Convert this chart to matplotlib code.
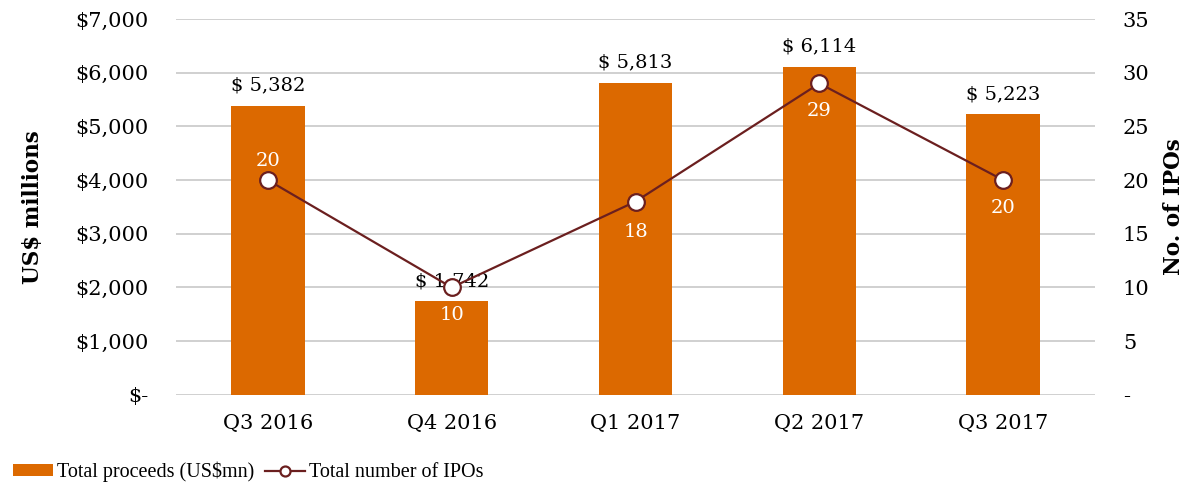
import matplotlib
matplotlib.use('Agg')
import matplotlib.pyplot as plt
from matplotlib.ticker import FuncFormatter

quarters = ['Q3 2016', 'Q4 2016', 'Q1 2017', 'Q2 2017', 'Q3 2017']
proceeds = [5382, 1742, 5813, 6114, 5223]
ipo_counts = [20, 10, 18, 29, 20]

BAR_COLOR = '#DC6900'
LINE_COLOR = '#6B1F1F'
SERIF = ['DejaVu Serif']
LEGEND_FONT = ['Liberation Serif']

# vertical offsets (points) for the count labels, above or below each marker
count_offsets = [14, -20, -22, -20, -20]


def money(v, pos=None):
    return '$-' if v == 0 else '${:,.0f}'.format(v)


def count(v, pos=None):
    return '-' if v == 0 else '{:.0f}'.format(v)


def main():
    fig = plt.figure(figsize=(11.89, 4.88), dpi=100)
    ax = fig.add_axes([0.148, 0.191, 0.773, 0.770])
    ax2 = ax.twinx()

    x = list(range(len(quarters)))
    bars = ax.bar(x, proceeds, width=0.4, color=BAR_COLOR, zorder=2,
                  label='Total proceeds (US$mn)')
    ax.set_ylim(0, 7000)
    ax.set_yticks(range(0, 7001, 1000))
    ax.yaxis.set_major_formatter(FuncFormatter(money))
    ax.set_xlim(-0.5, len(quarters) - 0.5)
    ax.set_xticks(x)
    ax.set_xticklabels(quarters)
    ax.grid(axis='y', color='#C8C8C8', linewidth=1.2, zorder=0)
    ax.set_axisbelow(True)

    for b, v in zip(bars, proceeds):
        ax.annotate('$ {:,}'.format(v), (b.get_x() + b.get_width() / 2, v),
                    xytext=(0, 8), textcoords='offset points',
                    ha='center', va='bottom', fontsize=14, family=SERIF)

    ax2.plot(x, ipo_counts, color=LINE_COLOR, linewidth=1.6, marker='o',
             markersize=12, markerfacecolor='white', markeredgewidth=1.6,
             zorder=3, label='Total number of IPOs')
    ax2.set_ylim(0, 35)
    ax2.set_yticks(range(0, 36, 5))
    ax2.yaxis.set_major_formatter(FuncFormatter(count))

    for xi, v, off in zip(x, ipo_counts, count_offsets):
        ax2.annotate(str(v), (xi, v), xytext=(0, off), textcoords='offset points',
                     ha='center', va='center', fontsize=14, color='white',
                     family=SERIF)

    for a in (ax, ax2):
        for s in a.spines.values():
            s.set_visible(False)
        a.tick_params(length=0, labelsize=15, colors='black')
        for lbl in a.get_xticklabels() + a.get_yticklabels():
            lbl.set_family(SERIF)
    ax.tick_params(axis='y', pad=20)
    ax.tick_params(axis='x', pad=14)
    ax2.tick_params(axis='y', pad=20)

    ax.set_ylabel('US$ millions', fontsize=15.5, fontweight='bold',
                  family=SERIF, labelpad=22)
    ax2.set_ylabel('No. of IPOs', fontsize=15.5, fontweight='bold',
                   family=SERIF, rotation=90, labelpad=10)

    h1, l1 = ax.get_legend_handles_labels()
    h2, l2 = ax2.get_legend_handles_labels()
    fig.legend(h1 + h2, l1 + l2, loc='lower left', bbox_to_anchor=(0.006, 0.0),
               ncol=2, frameon=False, prop={'family': LEGEND_FONT, 'size': 14.5},
               handlelength=2.0, handleheight=0.5, handletextpad=0.2,
               columnspacing=0.5, markerscale=0.6,
               borderaxespad=0.0, borderpad=0.3)

    fig.savefig('out.png', dpi=100)


if __name__ == '__main__':
    main()
